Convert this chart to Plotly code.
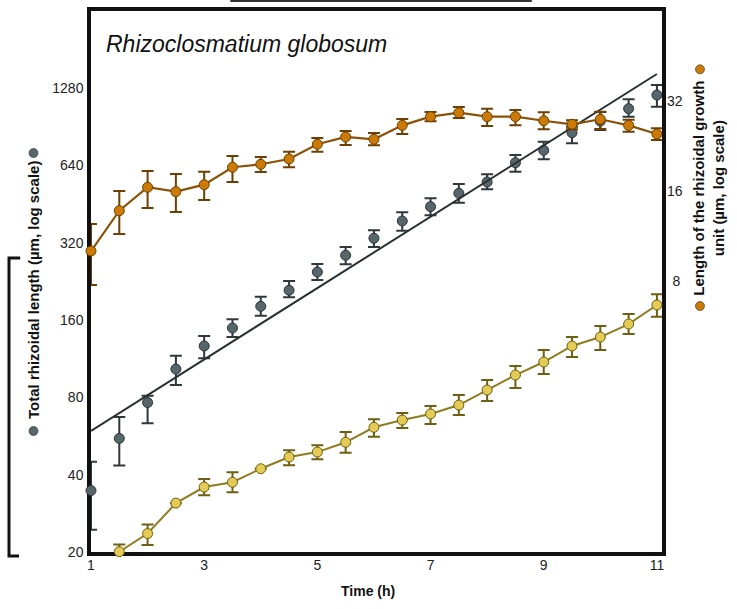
import plotly.graph_objects as go

# ---------------- data ----------------
time_h = [1, 1.5, 2, 2.5, 3, 3.5, 4, 4.5, 5, 5.5, 6, 6.5, 7, 7.5, 8, 8.5, 9, 9.5, 10, 10.5, 11]

# Total rhizoidal length (µm) - left log axis
total_len = [34.7, 55.4, 76.4, 103.2, 126.9, 149.1, 181.1, 209.1, 246.4, 286.2, 333.4,
             389.3, 442.6, 499.0, 552.2, 656.6, 733.8, 859.4, 954.0, 1066.0, 1205.0]
total_hi = [44.9, 67.1, 81.2, 116.3, 138.8, 161.2, 197.4, 227.3, 264.7, 308.3, 358.1,
            420.8, 477.1, 542.4, 591.8, 703.6, 792.8, 906.9, 1035.0, 1159.0, 1318.0]
total_lo = [24.4, 43.4, 63.4, 89.4, 113.6, 137.5, 166.5, 196.4, 229.3, 264.0, 308.3,
            356.8, 409.7, 458.6, 517.2, 605.7, 677.0, 781.4, 880.0, 992.0, 1085.0]

# Exponential fit of the total rhizoidal length (end points)
fit_time = [1, 11]
fit_len = [59.3, 1455.0]

# Length of the rhizoidal growth unit (µm) - right log axis
unit_len = [10.11, 13.79, 16.51, 15.96, 16.84, 19.25, 19.70, 20.52, 22.98, 24.30, 23.87,
            26.57, 28.40, 29.28, 28.40, 28.40, 27.53, 26.79, 27.84, 26.57, 24.86]
unit_hi = [12.45, 16.04, 18.71, 18.28, 18.61, 21.00, 20.84, 21.70, 24.12, 25.44, 25.05,
           27.90, 29.44, 30.59, 30.20, 29.90, 29.38, 27.63, 29.50, 27.75, 25.97]
unit_lo = [7.79, 11.53, 14.07, 13.65, 14.97, 17.20, 18.56, 19.25, 21.70, 22.85, 22.80,
           24.86, 27.42, 28.11, 26.45, 26.57, 25.78, 25.78, 25.83, 25.30, 23.74]

# Third (yellow) series, plotted on the left log scale
third_time = [1.5, 2, 2.5, 3, 3.5, 4, 4.5, 5, 5.5, 6, 6.5, 7, 7.5, 8, 8.5, 9, 9.5, 10, 10.5, 11]
third_val = [20.05, 23.6, 31.0, 35.8, 37.4, 42.2, 46.9, 49.0, 53.5, 61.2, 65.3, 69.0,
             74.7, 85.5, 97.8, 109.9, 126.9, 137.5, 154.5, 183.3]
third_hi = [21.4, 25.6, None, 38.5, 40.9, None, 49.8, 52.1, 58.7, 65.8, 69.6, 74.1,
            81.8, 93.5, 106.1, 122.4, 137.5, 151.8, 169.0, 201.7]
third_lo = [18.9, 21.3, None, 33.3, 34.2, None, 43.5, 45.9, 48.7, 56.2, 60.8, 63.0,
            68.3, 77.5, 87.0, 98.7, 115.0, 122.4, 141.3, 165.0]

left_ticks = [20, 40, 80, 160, 320, 640, 1280]
right_ticks = [8, 16, 32]
right_ticktext = ["\u2009\u20098", "16", "32"]
x_ticks = [1, 3, 5, 7, 9, 11]


def err_plus(v, hi):
    return [None if h is None else h - a for a, h in zip(v, hi)]


def err_minus(v, lo):
    return [None if l is None else a - l for a, l in zip(v, lo)]


GREY_FILL = "#56666b"
GREY_EDGE = "#2b3436"
ORANGE_FILL = "#cc7a06"
ORANGE_EDGE = "#6e3f00"
YELLOW_FILL = "#e3cb55"
YELLOW_EDGE = "#6e5f12"
FONT = "Liberation Sans, Arial, sans-serif"

fig = go.Figure()

# Yellow series (left axis)
fig.add_trace(go.Scatter(
    x=third_time, y=third_val, mode="lines+markers", name="third series",
    line=dict(color="#8f7c1f", width=2),
    marker=dict(size=10, color=YELLOW_FILL, line=dict(color=YELLOW_EDGE, width=1)),
    error_y=dict(type="data", symmetric=False,
                 array=err_plus(third_val, third_hi),
                 arrayminus=err_minus(third_val, third_lo),
                 color="#6e5f12", thickness=2, width=6),
    cliponaxis=False, yaxis="y", showlegend=False))

# Grey series (left axis) - points only
fig.add_trace(go.Scatter(
    x=time_h, y=total_len, mode="markers", name="Total rhizoidal length",
    marker=dict(size=10, color=GREY_FILL, line=dict(color=GREY_EDGE, width=1)),
    error_y=dict(type="data", symmetric=False,
                 array=err_plus(total_len, total_hi),
                 arrayminus=err_minus(total_len, total_lo),
                 color="#2f383a", thickness=2, width=6),
    cliponaxis=False, yaxis="y", showlegend=False))

# Exponential fit line
fig.add_trace(go.Scatter(
    x=fit_time, y=fit_len, mode="lines", name="fit",
    line=dict(color="#263032", width=2),
    cliponaxis=False, yaxis="y", showlegend=False))

# Orange series (right axis)
fig.add_trace(go.Scatter(
    x=time_h, y=unit_len, mode="lines+markers", name="Length of the rhizoidal growth unit",
    line=dict(color="#8a5206", width=2.2),
    marker=dict(size=10, color=ORANGE_FILL, line=dict(color=ORANGE_EDGE, width=1)),
    error_y=dict(type="data", symmetric=False,
                 array=err_plus(unit_len, unit_hi),
                 arrayminus=err_minus(unit_len, unit_lo),
                 color="#6e3f00", thickness=2, width=6),
    cliponaxis=False, yaxis="y2", showlegend=False))

fig.update_layout(
    width=737, height=609,
    margin=dict(l=91, r=75, t=11, b=57, autoexpand=False),
    paper_bgcolor="white", plot_bgcolor="white",
    font=dict(family=FONT, size=14, color="#222"),
    xaxis=dict(range=[1, 11.09], tickvals=x_ticks, ticktext=[str(t) for t in x_ticks],
               showgrid=False, zeroline=False, showline=True, mirror=True,
               linecolor="#111", linewidth=3.5, ticks="", ticklabelstandoff=-3,
               automargin=False,
               layer="below traces", tickfont=dict(size=14, color="#222")),
    yaxis=dict(type="log", range=[1.30103, 3.40824], tickvals=left_ticks,
               ticktext=[str(t) for t in left_ticks],
               showgrid=False, zeroline=False, showline=True, mirror=True,
               linecolor="#111", linewidth=3.5, ticks="", ticklabelstandoff=1,
               automargin=False,
               layer="below traces", tickfont=dict(size=14, color="#222")),
    yaxis2=dict(type="log", range=[0, 1.80618], tickvals=right_ticks,
                ticktext=right_ticktext,
                overlaying="y", side="right", showgrid=False, zeroline=False,
                showline=False, ticks="", ticklabelstandoff=4, automargin=False,
                tickfont=dict(size=14, color="#222")),
)

annotations = [
    dict(text="<i>Rhizoclosmatium globosum</i>", x=0.0228, y=0.939, xref="paper", yref="paper",
         xanchor="left", yanchor="middle", showarrow=False,
         font=dict(family=FONT, size=23, color="#111")),
    dict(text="<b>Time (h)</b>", x=0.485, y=-0.072, xref="paper", yref="paper",
         xanchor="center", yanchor="middle", showarrow=False,
         font=dict(family=FONT, size=14, color="#111")),
    dict(text="<b>Total rhizoidal length (µm, log scale)</b>",
         x=-0.1007, y=0.4834, xref="paper", yref="paper", textangle=-90,
         xanchor="center", yanchor="middle", showarrow=False,
         font=dict(family=FONT, size=15, color="#111")),
    dict(text="<b>Length of the rhizoidal growth</b><br><b>unit (µm, log scale)</b>",
         x=1.0823, y=0.6734, xref="paper", yref="paper", textangle=-90,
         xanchor="center", yanchor="middle", showarrow=False,
         font=dict(family=FONT, size=15, color="#111")),
]
fig.update_layout(annotations=annotations)


def dot(xp, yp, color):
    return dict(type="circle", xref="paper", yref="paper", xsizemode="pixel", ysizemode="pixel",
                xanchor=xp, yanchor=yp, x0=-4.5, x1=4.5, y0=-4.5, y1=4.5,
                fillcolor=color, line=dict(color="#2a2a2a", width=0.6))


shapes = [
    # partial box edge visible at the very top
    dict(type="line", xref="paper", yref="paper", x0=0.244, x1=0.772, y0=1.0185, y1=1.0185,
         line=dict(color="#333", width=2)),
    # bracket on the left edge
    dict(type="path", xref="paper", yref="paper",
         path="M -0.124 0.5434 L -0.1436 0.5434 L -0.1436 -0.0074 L -0.126 -0.0074",
         line=dict(color="#111", width=3)),
    # colour keys next to the axis titles
    dot(-0.1007, 0.7375, GREY_FILL),
    dot(-0.1007, 0.2237, GREY_FILL),
    dot(1.0665, 0.8922, ORANGE_FILL),
    dot(1.0665, 0.4547, ORANGE_FILL),
]
fig.update_layout(shapes=shapes)

fig.write_html("out.html", config={"displayModeBar": False},
               post_script="document.body.style.margin='0';")
